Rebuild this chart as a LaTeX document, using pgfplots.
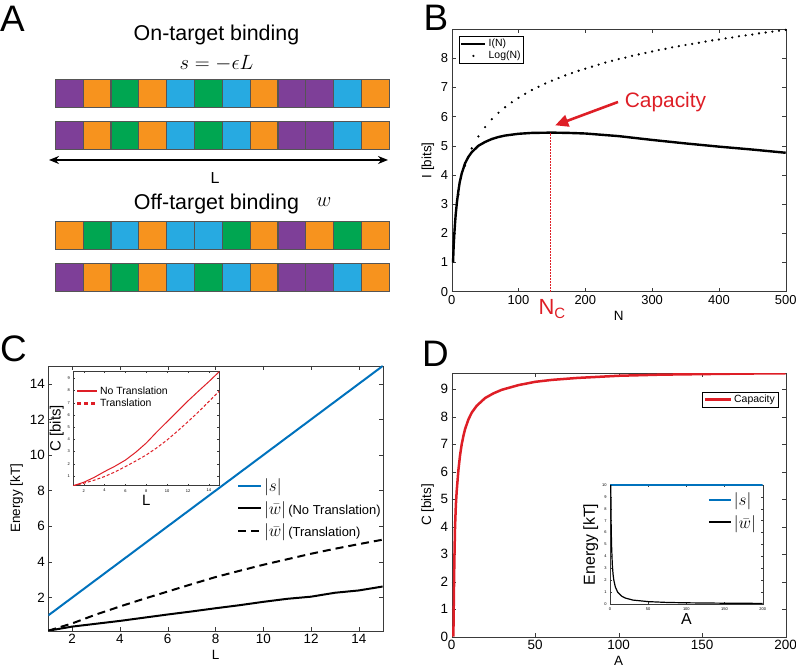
\documentclass[border=0pt]{standalone}
\usepackage{pgfplots}
\pgfplotsset{compat=1.18}
\usepackage{fontspec}
\setmainfont{Liberation Sans}
\usetikzlibrary{arrows.meta}
\definecolor{cP}{HTML}{7E3F98}
\definecolor{cO}{HTML}{F7931E}
\definecolor{cG}{HTML}{00A651}
\definecolor{cB}{HTML}{27AAE1}
\definecolor{bord}{HTML}{555555}
\definecolor{mblue}{rgb}{0,0.447,0.741}
\definecolor{mred}{RGB}{222,30,38}
\definecolor{axgray}{HTML}{3A3A3A}
\newcommand{\fs}[1]{\fontsize{#1}{#1}\selectfont}
\pgfplotsset{
  /pgf/number format/assume math mode=true,
  every axis/.append style={axis line style={axgray}, every tick/.style={axgray}},
}
\begin{document}
\begin{tikzpicture}
\useasboundingbox (0,0) rectangle (796bp,669bp);
%================ Panel A (canvas) =================
\begin{axis}[at={(0bp,0bp)}, anchor=south west, scale only axis, width=796bp, height=669bp,
  xmin=0, xmax=796, ymin=0, ymax=669, hide axis, clip=false]
\addplot[scatter, only marks, mark size=13.9bp, line width=0.4bp, scatter src=explicit symbolic,
  scatter/classes={P={mark=square*,fill=cP,draw=bord}, O={mark=square*,fill=cO,draw=bord},
                   G={mark=square*,fill=cG,draw=bord}, B={mark=square*,fill=cB,draw=bord}}]
  table[meta=c]{
x y c
68.9 576 P
96.7 576 O
124.6 576 G
152.4 576 O
180.2 576 B
208.1 576 G
235.9 576 B
263.7 576 O
291.6 576 P
319.4 576 P
347.2 576 B
375.1 576 O
68.9 534 P
96.7 534 O
124.6 534 G
152.4 534 O
180.2 534 B
208.1 534 G
235.9 534 B
263.7 534 O
291.6 534 P
319.4 534 P
347.2 534 B
375.1 534 O
68.9 434 O
96.7 434 G
124.6 434 B
152.4 434 O
180.2 434 B
208.1 434 B
235.9 434 G
263.7 434 O
291.6 434 P
319.4 434 O
347.2 434 G
375.1 434 O
68.9 392 P
96.7 392 O
124.6 392 G
152.4 392 O
180.2 392 B
208.1 392 G
235.9 392 B
263.7 392 O
291.6 392 P
319.4 392 P
347.2 392 B
375.1 392 O
};
\addplot[black, line width=1.6bp, {Stealth[length=10bp,width=8bp]}-{Stealth[length=10bp,width=8bp]}]
  coordinates {(49,509) (388,509)};
\node[font=\fs{16}] at (axis cs:215,491) {L};
\node[font=\fs{21.5}] at (axis cs:216.5,634) {On-target binding};
\node[font=\fs{20}] at (axis cs:216.5,606) {$s=-\epsilon L$};
\node[font=\fs{21.5}] at (axis cs:216.5,465) {Off-target binding};
\node[font=\fs{20}] at (axis cs:324,467) {$w$};
\node[font=\fs{37}] at (axis cs:12.5,650.5) {A};
\node[font=\fs{37}] at (axis cs:436,651) {B};
\node[font=\fs{37}] at (axis cs:13.5,320.5) {C};
\node[font=\fs{37}] at (axis cs:435.5,315.5) {D};
\end{axis}
%================ Panel B =================
\begin{axis}[at={(451.7bp,377.3bp)}, anchor=south west, scale only axis, width=334bp, height=262.7bp,
  xmin=0, xmax=500, ymin=0, ymax=9, xtick={0,100,...,500}, ytick={0,...,8},
  tick label style={font=\fs{13}}, label style={font=\fs{13.5}},
  xlabel={N}, ylabel={I [bits]}, major tick length=4bp, clip=false,
  legend style={at={(0.022,0.973)}, anchor=north west, font=\fs{10.5}, draw=black, inner sep=1pt,
    row sep=-1pt, legend cell align=left},
  legend image code/.code={\draw[#1] (0bp,0bp) -- (24bp,0bp);}]
\addplot[black, line width=2.4bp] coordinates {
(2,1.0) (3,1.6) (4,2.0) (5,2.35) (6,2.65) (8,3.1) (10,3.45) (12,3.75) (15,4.05) (20,4.4)
(25,4.62) (30,4.78) (40,5.0) (50,5.13) (60,5.23) (70,5.3) (80,5.35) (100,5.41) (120,5.44)
(150,5.45) (175,5.44) (200,5.42) (250,5.33) (300,5.2) (350,5.08) (400,4.97) (450,4.87) (500,4.76)};
\addlegendentry{I(N)}
\addplot[black, only marks, mark=*, mark size=0.9bp,
  legend image code/.code={\fill (12bp,0bp) circle (0.9bp);}] coordinates {
(10,3.32) (20,4.32) (30,4.91) (40,5.32) (50,5.64) (60,5.91) (70,6.13) (80,6.32) (90,6.49) (100,6.64)
(110,6.78) (120,6.91) (130,7.02) (140,7.13) (150,7.23) (160,7.32) (170,7.41) (180,7.49) (190,7.57) (200,7.64)
(210,7.71) (220,7.78) (230,7.85) (240,7.91) (250,7.97) (260,8.02) (270,8.08) (280,8.13) (290,8.18) (300,8.23)
(310,8.28) (320,8.32) (330,8.37) (340,8.41) (350,8.45) (360,8.49) (370,8.53) (380,8.57) (390,8.61) (400,8.64)
(410,8.68) (420,8.71) (430,8.75) (440,8.78) (450,8.81) (460,8.85) (470,8.88) (480,8.91) (490,8.94) (500,8.97)};
\addlegendentry{Log(N)}
\addplot[mred, line width=1.3bp, dash pattern=on 1.5bp off 1.5bp, forget plot] coordinates {(148,0) (148,5.45)};
\addplot[mred, line width=2.6bp, -{Triangle[length=13bp,width=12bp]}, forget plot] coordinates {(249,6.5) (155,5.7)};
\node[mred, font=\fs{21}] at (axis cs:320,6.5) {Capacity};
\node[mred, font=\fs{22}] at (axis cs:150,-0.6) {N\raisebox{-0.4ex}{\fs{15}C}};
\end{axis}
%================ Panel C =================
\begin{axis}[at={(48.3bp,38.3bp)}, anchor=south west, scale only axis, width=334.4bp, height=264.7bp,
  xmin=1, xmax=15, ymin=0.14, ymax=15, xtick={2,4,...,14}, ytick={2,4,...,14},
  tick label style={font=\fs{13.5}}, label style={font=\fs{13.5}},
  xlabel={L}, ylabel={Energy [kT]}, major tick length=4bp,
  legend style={at={(0.555,0.59)}, anchor=north west, draw=none, fill=none, font=\fs{13},
    row sep=4pt, legend cell align=left},
  legend image code/.code={\draw[#1] (0bp,0bp) -- (23bp,0bp);}]
\addplot[mblue, line width=2bp] coordinates {(1,1) (15,15)};
\addlegendentry{{\fs{18}$|s|$}}
\addplot[black, line width=2bp] coordinates {
(1,0.14) (2,0.37) (3,0.53) (4,0.69) (5,0.87) (6,1.05) (7,1.22) (8,1.4) (9,1.57) (10,1.76)
(11,1.93) (12,2.05) (13,2.27) (14,2.4) (15,2.62)};
\addlegendentry{{\fs{18}$|\bar{w}|$}\,(No Translation)}
\addplot[black, line width=2bp, dash pattern=on 8bp off 5bp] coordinates {
(1,0.14) (2,0.55) (3,1.05) (4,1.5) (5,1.93) (6,2.34) (7,2.75) (8,3.15) (9,3.5) (10,3.84)
(11,4.15) (12,4.46) (13,4.74) (14,5.0) (15,5.25)};
\addlegendentry{{\fs{18}$|\bar{w}|$}\,(Translation)}
\end{axis}
%================ Panel C inset =================
\begin{axis}[at={(73.3bp,183.3bp)}, anchor=south west, scale only axis, width=146bp, height=114.7bp,
  axis background/.style={fill=white},
  xmin=1, xmax=15, ymin=0.2, ymax=9.6, xtick={2,4,...,14}, ytick={1,...,9},
  tick label style={font=\fs{4}}, major tick length=2bp,
  xlabel={L}, ylabel={C [bits]}, label style={font=\fs{15}},
  xlabel style={yshift=4bp}, ylabel style={yshift=-3bp},
  legend style={at={(0.01,0.89)}, anchor=north west, draw=none, fill=none, font=\fs{10.5},
    row sep=-1pt, legend cell align=left, inner sep=1pt},
  legend image code/.code={\draw[#1] (0bp,0bp) -- (20bp,0bp);}]
\addplot[mred, line width=1bp, legend image post style={line width=2.2bp}] coordinates {
(1,0.2) (2,0.48) (3,0.88) (4,1.36) (5,1.8) (6,2.3) (7,2.95) (8,3.7) (9,4.6) (10,5.45)
(11,6.3) (12,7.15) (13,7.95) (14,8.73) (15,9.55)};
\addlegendentry{No Translation}
\addplot[mred, line width=1bp, dash pattern=on 3bp off 2bp,
  legend image post style={line width=2.2bp, dash pattern=on 4bp off 3bp}] coordinates {
(1,0.2) (2,0.4) (3,0.65) (4,0.95) (5,1.33) (6,1.77) (7,2.23) (8,2.72) (9,3.3) (10,3.95)
(11,4.68) (12,5.45) (13,6.25) (14,7.1) (15,7.95)};
\addlegendentry{Translation}
\end{axis}
%================ Panel D =================
\begin{axis}[at={(451.7bp,32.3bp)}, anchor=south west, scale only axis, width=334bp, height=263.4bp,
  xmin=0, xmax=200, ymin=0, ymax=9.58, xtick={0,50,...,200}, ytick={0,...,9},
  tick label style={font=\fs{13.5}}, label style={font=\fs{13.5}},
  xlabel={A}, ylabel={C [bits]}, major tick length=4bp,
  legend style={at={(0.977,0.929)}, anchor=north east, font=\fs{10.5}, draw=black, inner sep=1pt},
  legend image code/.code={\draw[#1] (0bp,0bp) -- (26bp,0bp);}]
\addplot[mred, line width=2.5bp] coordinates {
(1,0) (1.3,1.5) (1.6,2.8) (2,4.0) (2.5,4.8) (3,5.3) (4,6.05) (5,6.6) (6,7.0) (7,7.3) (8,7.55)
(10,7.9) (12,8.15) (15,8.4) (20,8.68) (25,8.85) (30,8.98) (40,9.15) (50,9.27) (60,9.34)
(75,9.41) (100,9.49) (125,9.53) (150,9.55) (175,9.57) (200,9.58)};
\addlegendentry{Capacity}
\end{axis}
%================ Panel D inset =================
\begin{axis}[at={(610bp,65bp)}, anchor=south west, scale only axis, width=152.7bp, height=119bp,
  axis background/.style={fill=white},
  xmin=0, xmax=200, ymin=0, ymax=10, xtick={0,50,...,200}, ytick={0,...,10},
  tick label style={font=\fs{4}}, major tick length=2bp,
  xlabel={A}, ylabel={Energy [kT]}, label style={font=\fs{16}},
  xlabel style={yshift=4bp}, ylabel style={yshift=-3bp},
  legend style={at={(0.99,0.97)}, anchor=north east, draw=none, fill=none, font=\fs{18},
    row sep=4pt, legend cell align=left},
  legend image code/.code={\draw[#1] (0bp,0bp) -- (22bp,0bp);}]
\addplot[mblue, line width=1.5bp, legend image post style={line width=2.2bp}] coordinates {(0,10) (200,10)};
\addlegendentry{$|s|$}
\addplot[black, line width=1.2bp, legend image post style={line width=2.2bp}] coordinates {
(1,10) (1.5,6.67) (2,5) (3,3.33) (4,2.5) (5,2) (7,1.43) (10,1) (15,0.67) (20,0.5) (30,0.33)
(50,0.2) (75,0.13) (100,0.1) (150,0.067) (200,0.05)};
\addlegendentry{$|\bar{w}|$}
\end{axis}
\end{tikzpicture}
\end{document}
